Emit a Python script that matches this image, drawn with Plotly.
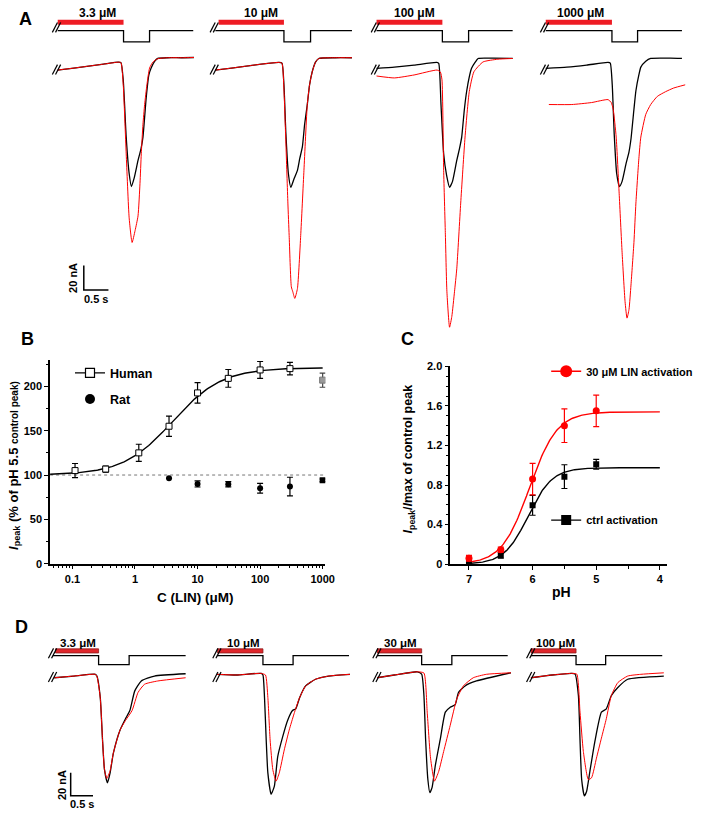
import numpy as np
import plotly.graph_objects as go

# ---------------- DATA ----------------
# Panel A: current traces (time in s, current in nA), control (black) and + LIN (red)
A_labels = ["3.3 μM", "10 μM", "100 μM", "1000 μM"]
A1_ctrl_t = [0, 0.334, 0.634, 0.934, 1.234, 1.288, 1.334, 1.394, 1.454, 1.5, 1.554, 1.634, 1.694, 1.734, 1.8, 1.854, 1.9, 1.974, 2.034, 2.234, 2.534, 2.768]
A1_ctrl_i = [-2.4, -0.8, 0.8, 2.4, 4, 3.6, -10.4, -56.8, -86.4, -97, -90.4, -75.8, -66.4, -56.8, -24.8, -6.4, -0.8, 4.8, 7, 7.6, 7.6, 7.8]
A1_lin_t = [0, 0.334, 0.634, 0.934, 1.234, 1.288, 1.334, 1.394, 1.454, 1.514, 1.574, 1.634, 1.674, 1.7, 1.734, 1.768, 1.814, 1.868, 1.934, 2.034, 2.234, 2.534, 2.768]
A1_lin_i = [-2.4, -0.8, 0.8, 2.4, 4, 3.6, -14.4, -70.4, -122.4, -142.4, -132.8, -120.8, -94.4, -70.4, -46.4, -30.4, -14.4, -0.8, 4, 6.8, 7.6, 7.6, 7.8]

A2_ctrl_t = [0, 0.334, 0.634, 0.934, 1.294, 1.354, 1.394, 1.434, 1.484, 1.534, 1.594, 1.668, 1.714, 1.768, 1.814, 1.868, 1.914, 1.968, 2.034, 2.1, 2.434, 2.774]
A2_ctrl_i = [-2.4, -0.8, 0.8, 2.4, 3.8, 3.2, -14.4, -54.4, -86.4, -97.6, -91.2, -83.8, -74.4, -64.8, -46.4, -30.4, -14.4, -3.8, 4, 7, 7.6, 7.6]
A2_lin_t = [0, 0.334, 0.634, 0.934, 1.294, 1.354, 1.394, 1.434, 1.474, 1.5, 1.544, 1.574, 1.614, 1.668, 1.734, 1.8, 1.868, 1.914, 1.968, 2.034, 2.1, 2.434, 2.774]
A2_lin_i = [-2.4, -0.8, 0.8, 2.4, 3.8, 3.2, -18.4, -62.4, -110.4, -136.8, -178.4, -182.4, -187.8, -179.8, -136.8, -83.8, -30.4, -14.4, -3.8, 4, 7, 7.6, 7.6]

A3_ctrl_t = [0, 0.366, 0.766, 1.226, 1.266, 1.312, 1.366, 1.426, 1.486, 1.546, 1.632, 1.686, 1.732, 1.786, 1.832, 1.886, 1.932, 2.006, 2.066, 2.366, 2.766]
A3_ctrl_i = [-1, 0, 1.6, 3.8, 3, -30.4, -70.4, -88, -97.6, -92.8, -75.8, -66.4, -56.8, -34.4, -19.8, -8, -1, 4, 7, 7.2, 7]
A3_lin_t = [0, 0.366, 0.766, 1.232, 1.3, 1.332, 1.366, 1.4, 1.432, 1.486, 1.532, 1.586, 1.632, 1.712, 1.8, 1.886, 1.98, 2.166, 2.466, 2.766]
A3_lin_i = [-7.2, -8.8, -6.4, -2.4, -4, -10.4, -83.8, -134.4, -182.4, -211.2, -202.4, -182.4, -163.8, -110.4, -56.8, -19.8, -3.8, 4.2, 6.4, 7]

A4_ctrl_t = [0, 0.434, 0.834, 1.268, 1.314, 1.354, 1.394, 1.444, 1.5, 1.554, 1.634, 1.694, 1.734, 1.794, 1.834, 1.894, 1.934, 2.034, 2.134, 2.534, 2.768]
A4_ctrl_i = [-1, 0, 1.6, 3.8, 3.2, -14.4, -54.4, -86.4, -97, -92.8, -78.4, -68.8, -58.4, -34.4, -19.2, -6.4, 0, 4.8, 7, 7.2, 7]
A4_lin_t = [0.068, 0.534, 0.934, 1.268, 1.334, 1.374, 1.434, 1.494, 1.554, 1.614, 1.654, 1.694, 1.734, 1.794, 1.834, 1.894, 1.934, 2.034, 2.134, 2.268, 2.434, 2.6, 2.834]
A4_lin_i = [-30.4, -30.4, -28.8, -26.4, -28.8, -34.4, -56.8, -102.4, -150.4, -190.4, -203.8, -196.8, -177, -142.4, -110.4, -74.4, -56.8, -38.4, -30.4, -23.8, -20, -17, -14.4]

# Panel A protocol timing (s): LIN bar start, pH step on/off, sweep end
A_bar_start = [0, 0.068, 0, 0]
A_step_on = [1.34, 1.394, 1.34, 1.348]
A_step_off = [1.868, 1.934, 1.872, 1.868]
A_end = [2.754, 2.774, 2.766, 2.768]

# Panel D: current traces
D_labels = ["3.3 μM", "10 μM", "30 μM", "100 μM"]
D1_ctrl_t = [0.037, 0.479, 0.958, 0.993, 1.068, 1.119, 1.163, 1.23, 1.289, 1.362, 1.51, 1.634, 1.731, 1.841, 1.987, 2.283, 2.98]
D1_ctrl_i = [-1.5, 0, 1.5, 0, -18.6, -55.7, -81.4, -92.8, -84.2, -67.1, -47.1, -37.1, -30, -12.9, -4.3, 0, 2]
D1_lin_t = [0.037, 0.479, 0.958, 0.993, 1.068, 1.119, 1.163, 1.214, 1.289, 1.362, 1.51, 1.634, 1.781, 1.914, 2.062, 2.355, 2.98]
D1_lin_i = [-1.5, 0, 1.5, 0, -18.6, -55.7, -81.4, -89.1, -82.3, -66.8, -47.1, -38.6, -30, -14.3, -7.1, -4.3, -1.5]

D2_ctrl_t = [0, 0.442, 0.993, 1.031, 1.066, 1.104, 1.141, 1.214, 1.287, 1.362, 1.472, 1.583, 1.693, 1.766, 1.854, 1.987, 2.208, 2.501, 2.98]
D2_ctrl_i = [1.5, 0.9, 2.3, 0.9, -18.6, -55.7, -84.2, -102.8, -95.7, -70, -52.9, -38.6, -30, -28.5, -18.6, -8.6, -2.8, 0, 1.5]
D2_lin_t = [0, 0.442, 0.993, 1.088, 1.141, 1.192, 1.252, 1.325, 1.397, 1.508, 1.618, 1.728, 1.839, 1.987, 2.208, 2.501, 2.98]
D2_lin_i = [1.5, 0.9, 2.3, 0.9, -18.6, -55.7, -81.4, -91.4, -84.2, -64.3, -47.1, -32.8, -20, -8.6, -2.8, 0, 1.5]

D3_ctrl_t = [0, 0.391, 0.905, 1.002, 1.053, 1.091, 1.141, 1.185, 1.236, 1.311, 1.422, 1.532, 1.642, 1.753, 1.826, 1.974, 2.23, 3.002]
D3_ctrl_i = [-1.5, 0.9, 3.7, 1.7, -17.1, -55.7, -90, -101.4, -96.8, -77.1, -54.2, -31.4, -27.2, -24.9, -14.3, -8.6, -4.3, 2.8]
D3_lin_t = [0, 0.391, 0.905, 1.053, 1.126, 1.201, 1.289, 1.384, 1.494, 1.642, 1.788, 1.936, 2.157, 2.45, 3.002]
D3_lin_i = [-1.5, 0.9, 3.7, 2.6, -31.4, -71.4, -91.4, -82.9, -65.7, -42.8, -20, -8.6, -1.5, 1.5, 2.8]

D4_ctrl_t = [0, 0.479, 0.921, 0.993, 1.068, 1.104, 1.141, 1.201, 1.252, 1.325, 1.435, 1.583, 1.693, 1.804, 1.951, 2.172, 2.98]
D4_ctrl_i = [-1.5, 0.9, 2.3, 1.7, -17.1, -55.7, -90, -104.3, -100.3, -82.9, -57.2, -31.4, -28.5, -17.1, -10, -2.8, 0]
D4_lin_t = [0, 0.479, 0.921, 1.031, 1.104, 1.179, 1.289, 1.362, 1.472, 1.583, 1.693, 1.804, 1.951, 2.172, 2.466, 2.98]
D4_lin_i = [-1.5, 0.9, 2.3, 1.7, -31.4, -65.7, -90, -88.5, -71.4, -54, -37.1, -17.1, -5.7, 0, 1.5, 2.8]

D_bar_start = [0.066, 0.015, 0, 0]
D_step_on = [1.031, 1.031, 1.002, 1.015]
D_step_off = [1.715, 1.706, 1.678, 1.678]
D_end = [2.98, 2.958, 2.929, 2.945]

# Panel B: dose-response
B_conc = [0.11, 0.34, 1.15, 3.5, 10, 31, 100, 300]
B_human = [105, 106.7, 125, 155, 192.6, 209, 218.5, 220]
B_human_err = [8, 3.5, 9.7, 11.5, 11.5, 10, 9.5, 7]
B_human_1000 = [207]
B_human_1000_err = [8]
B_rat_conc = [3.5, 10, 31, 100, 300]
B_rat = [96.3, 90, 89.6, 85, 87]
B_rat_err = [0, 3.5, 3, 5.5, 10.5]
B_rat_1000 = [94]
B_x_ticks = [0.1, 1, 10, 100, 1000]
B_x_ticktext = ["0.1", "1", "10", "100", "1000"]
# Hill fit parameters (human)
B_fit_bottom, B_fit_top, B_fit_ec50, B_fit_nh = 100, 221, 4.0, 1.1

# Panel C: pH dependence
C_pH = [7, 6.5, 6, 5.5, 5]
C_lin = [0.06, 0.147, 0.86, 1.40, 1.55]
C_lin_err = [0.03, 0.025, 0.16, 0.17, 0.16]
C_ctrl = [0.015, 0.09, 0.595, 0.885, 1.01]
C_ctrl_err = [0.015, 0.03, 0.10, 0.12, 0.05]
C_lin_fit = dict(top=1.54, pH50=6.05, n=2.0)
C_ctrl_fit = dict(top=0.975, pH50=6.07, n=2.3)
C_y_ticks = [0, 0.4, 0.8, 1.2, 1.6, 2.0]
C_y_ticktext = ["0", "0.4", "0.8", "1.2", "1.6", "2.0"]

# ---------------- STYLE / LAYOUT HELPERS ----------------
W, H = 709, 819
FONT = "Liberation Sans, Arial, sans-serif"
RED = "#ff0000"
BAR_RED = "#ee1c24"


def px(x):
    return x / W


def py(y):
    return 1 - y / H


def aname(i):
    return ("x" if i == 1 else f"x{i}"), ("y" if i == 1 else f"y{i}")


fig = go.Figure()
layout = {}
shapes = []
annotations = []


def bfont(size, color="black"):
    return dict(family=FONT, size=size, color=color, weight="bold")


def text(x, y, s, size, angle=0, xanchor="center", yanchor="middle", color="black"):
    annotations.append(dict(x=px(x), y=py(y), xref="paper", yref="paper", text=s,
                            showarrow=False, textangle=angle, xanchor=xanchor,
                            yanchor=yanchor, font=bfont(size, color)))


def brk(cx, cy, h=10):
    # "//" break mark
    for dx in (-1.6, 1.6):
        shapes.append(dict(type="line", xref="paper", yref="paper",
                           x0=px(cx + dx - 2.6), y0=py(cy + h / 2),
                           x1=px(cx + dx + 2.6), y1=py(cy - h / 2),
                           line=dict(color="black", width=1.2)))


A_traces = [(A1_ctrl_t, A1_ctrl_i, A1_lin_t, A1_lin_i),
            (A2_ctrl_t, A2_ctrl_i, A2_lin_t, A2_lin_i),
            (A3_ctrl_t, A3_ctrl_i, A3_lin_t, A3_lin_i),
            (A4_ctrl_t, A4_ctrl_i, A4_lin_t, A4_lin_i)]
D_traces = [(D1_ctrl_t, D1_ctrl_i, D1_lin_t, D1_lin_i),
            (D2_ctrl_t, D2_ctrl_i, D2_lin_t, D2_lin_i),
            (D3_ctrl_t, D3_ctrl_i, D3_lin_t, D3_lin_i),
            (D4_ctrl_t, D4_ctrl_i, D4_lin_t, D4_lin_i)]

# panel geometry (pixels)
A_x0 = [58.3, 218.3, 381.7, 553.3]
A_pps, A_ppn, A_y0 = 50.0, 1.25, 62.0          # px per s, px per nA, baseline px
A_top, A_bot = 0, 335
D_x0 = [53.3, 220.0, 382.3, 538.3]
D_pps, D_ppn, D_y0 = 45.3, 1.167, 680.0
D_top, D_bot = 640, 815
A_label_t = [0.82, 0.93, 0.77, 0.70]
D_label_t = [0.574, 0.589, 0.523, 0.552]


def trace_panel(idx, x0, pps, ppn, y0, top, bot, tr, bar_s, st_on, st_off, st_end,
                label, label_t, proto, panelD):
    xa, ya = aname(idx)
    width_px = 150
    layout["xaxis" + ("" if idx == 1 else str(idx))] = dict(
        domain=[px(x0), min(1.0, px(x0 + width_px))],
        range=[0, (min(W, x0 + width_px) - x0) / pps],
        visible=False, anchor=ya, fixedrange=True)
    layout["yaxis" + ("" if idx == 1 else str(idx))] = dict(
        domain=[py(bot), py(top)], range=[-(bot - y0) / ppn, (y0 - top) / ppn],
        visible=False, anchor=xa, fixedrange=True)
    ct, ci, lt, li = tr
    fig.add_trace(go.Scatter(x=ct, y=ci, mode="lines", xaxis=xa, yaxis=ya,
                             line=dict(color="black", width=1.3, shape="spline", smoothing=0.5),
                             showlegend=False, hoverinfo="skip"))
    fig.add_trace(go.Scatter(x=lt, y=li, mode="lines", xaxis=xa, yaxis=ya,
                             line=dict(color=RED, width=1.0, shape="spline", smoothing=0.5),
                             showlegend=False, hoverinfo="skip"))
    hi, lo, bar_y, bar_h, lab_y = proto
    path = (f"M {0},{py(hi)} L {st_on},{py(hi)} L {st_on},{py(lo)} L {st_off},{py(lo)} "
            f"L {st_off},{py(hi)} L {st_end},{py(hi)}")
    shapes.append(dict(type="path", xref=xa, yref="paper", path=path,
                       line=dict(color="black", width=1.3)))
    if panelD:
        shapes.append(dict(type="rect", xref=xa, yref="paper", x0=bar_s, x1=st_on,
                           y0=py(bar_y + bar_h / 2), y1=py(bar_y - bar_h / 2),
                           fillcolor="#e0262b", line=dict(color="#8c1c1c", width=0.8)))
    else:
        shapes.append(dict(type="rect", xref=xa, yref="paper", x0=bar_s, x1=st_on,
                           y0=py(bar_y + bar_h / 2), y1=py(bar_y - bar_h / 2),
                           fillcolor=BAR_RED, line=dict(width=0)))
    annotations.append(dict(x=label_t, y=py(lab_y), xref=xa, yref="paper", text=label,
                            showarrow=False, xanchor="center", yanchor="middle",
                            font=bfont(12 if not panelD else 11.5)))
    brk(x0 - (1 if not panelD else 0), (hi + bar_y) / 2 + (1 if not panelD else 0))
    brk(x0 - (1 if not panelD else 0), y0 + (2.5 if not panelD else 1))


for k in range(4):
    trace_panel(k + 1, A_x0[k], A_pps, A_ppn, A_y0, A_top, A_bot, A_traces[k],
                A_bar_start[k], A_step_on[k], A_step_off[k], A_end[k],
                A_labels[k], A_label_t[k], (25, 36.5, 16.5, 5, 7), False)
    trace_panel(k + 5, D_x0[k], D_pps, D_ppn, D_y0, D_top, D_bot, D_traces[k],
                D_bar_start[k], D_step_on[k], D_step_off[k], D_end[k],
                D_labels[k], D_label_t[k], (659.3, 668.5, 654.5, 4.2, 646), True)

# scale bars (20 nA, 0.5 s)
shapes.append(dict(type="path", xref="x", yref="y",
                   path="M 0.534,-161 L 0.534,-181 L 1.034,-181",
                   line=dict(color="black", width=1.5)))
shapes.append(dict(type="path", xref="x5", yref="y5",
                   path="M 0.406,-84.2 L 0.406,-104.2 L 0.906,-104.2",
                   line=dict(color="black", width=1.5)))
text(74, 276, "20 nA", 11, angle=-90)
text(97, 297, "0.5 s", 11)
text(63.5, 791, "20 nA", 11, angle=-90)
text(83.5, 809.5, "0.5 s", 11)

# ---------------- PANEL B ----------------
xb, yb = "x9", "y9"
minor_log = [k * 10 ** e for e in range(-2, 4) for k in range(2, 10) if 0.044 < k * 10 ** e < 1100]
axis_common = dict(showline=True, linecolor="black", linewidth=1.5, ticks="outside",
                   ticklen=4, tickwidth=1.3, tickcolor="black", showgrid=False,
                   zeroline=False, tickfont=bfont(11), fixedrange=True)
layout["xaxis9"] = dict(axis_common, domain=[px(50.7), px(330)], type="log",
                        range=[-1.359, 3.043], tickvals=B_x_ticks, ticktext=B_x_ticktext,
                        anchor=yb,
                        minor=dict(tickvals=minor_log, ticks="outside", ticklen=2.5,
                                   tickwidth=1, tickcolor="black"))
layout["yaxis9"] = dict(axis_common, domain=[py(566), py(359)], range=[0, 230],
                        tickvals=[0, 50, 100, 150, 200], anchor=xb,
                        minor=dict(dtick=25, tick0=0, ticks="outside", ticklen=2.5,
                                   tickwidth=1, tickcolor="black"))

conc_fit = np.logspace(np.log10(0.044), 3, 200)
fit_b = B_fit_bottom + (B_fit_top - B_fit_bottom) / (1 + (B_fit_ec50 / conc_fit) ** B_fit_nh)
fig.add_trace(go.Scatter(x=[0.044, 1200], y=[100, 100], mode="lines", xaxis=xb, yaxis=yb,
                         line=dict(color="#777", width=1.0, dash="dot"), showlegend=False))
fig.add_trace(go.Scatter(x=conc_fit, y=fit_b, mode="lines", xaxis=xb, yaxis=yb,
                         line=dict(color="black", width=1.4), showlegend=False))
fig.add_trace(go.Scatter(x=B_conc, y=B_human, mode="markers", xaxis=xb, yaxis=yb,
                         error_y=dict(type="data", array=B_human_err, color="black",
                                      thickness=1.2, width=3),
                         marker=dict(symbol="square", size=6, color="white",
                                     line=dict(color="black", width=1)),
                         showlegend=False))
fig.add_trace(go.Scatter(x=[1000], y=B_human_1000, mode="markers", xaxis=xb, yaxis=yb,
                         error_y=dict(type="data", array=B_human_1000_err, color="#444",
                                      thickness=1.2, width=3),
                         marker=dict(symbol="square", size=6, color="#9a9a9a",
                                     line=dict(color="#777", width=1)),
                         showlegend=False))
fig.add_trace(go.Scatter(x=B_rat_conc, y=B_rat, mode="markers", xaxis=xb, yaxis=yb,
                         error_y=dict(type="data", array=B_rat_err, color="black",
                                      thickness=1.2, width=3),
                         marker=dict(symbol="circle", size=6, color="black"),
                         showlegend=False))
fig.add_trace(go.Scatter(x=[1000], y=B_rat_1000, mode="markers", xaxis=xb, yaxis=yb,
                         error_y=dict(type="data", array=[1.5], color="black",
                                      thickness=1.2, width=3),
                         marker=dict(symbol="square", size=6, color="black"),
                         showlegend=False))
# legend entries
fig.add_trace(go.Scatter(x=[None], y=[None], mode="lines+markers", xaxis=xb, yaxis=yb,
                         name="Human", legend="legend",
                         line=dict(color="black", width=1.3),
                         marker=dict(symbol="square", size=9, color="white",
                                     line=dict(color="black", width=1.2))))
fig.add_trace(go.Scatter(x=[None], y=[None], mode="markers", xaxis=xb, yaxis=yb,
                         name="Rat", legend="legend2",
                         marker=dict(symbol="circle", size=10, color="black")))

text(14, 466, "<i>I</i><sub>peak</sub> (% of pH 5.5 <span style='font-size:10px'>control peak)</span>",
     13, angle=-90)
text(198.5, 600.5, "C (LIN) (μM)", 13.5)

# ---------------- PANEL C ----------------
xc, yc = "x10", "y10"
layout["xaxis10"] = dict(axis_common, domain=[px(456.7), px(676.7)], range=[7.294, 3.885],
                         tickvals=[7, 6, 5, 4], anchor=yc,
                         minor=dict(tickvals=[6.5, 5.5, 4.5], ticks="outside", ticklen=3,
                                    tickwidth=1, tickcolor="black"))
layout["yaxis10"] = dict(axis_common, domain=[py(566.5), py(365.7)], range=[0, 2.0],
                         tickvals=C_y_ticks, ticktext=C_y_ticktext, anchor=xc,
                         minor=dict(dtick=0.1, tick0=0, ticks="outside", ticklen=2.5,
                                    tickwidth=1, tickcolor="black"))
pH_fit = np.linspace(7, 4, 200)
for prm, col in ((C_ctrl_fit, "black"), (C_lin_fit, RED)):
    yfit = prm["top"] / (1 + 10 ** (prm["n"] * (pH_fit - prm["pH50"])))
    fig.add_trace(go.Scatter(x=pH_fit, y=yfit, mode="lines", xaxis=xc, yaxis=yc,
                             line=dict(color=col, width=1.4), showlegend=False))
fig.add_trace(go.Scatter(x=C_pH, y=C_ctrl, mode="markers", xaxis=xc, yaxis=yc,
                         error_y=dict(type="data", array=C_ctrl_err, color="black",
                                      thickness=1.2, width=3),
                         marker=dict(symbol="square", size=6, color="black"),
                         showlegend=False))
fig.add_trace(go.Scatter(x=C_pH, y=C_lin, mode="markers", xaxis=xc, yaxis=yc,
                         error_y=dict(type="data", array=C_lin_err, color=RED,
                                      thickness=1.2, width=3),
                         marker=dict(symbol="circle", size=7, color=RED),
                         showlegend=False))
fig.add_trace(go.Scatter(x=[None], y=[None], mode="lines+markers", xaxis=xc, yaxis=yc,
                         name="30 μM LIN activation", legend="legend3",
                         line=dict(color=RED, width=1.3),
                         marker=dict(symbol="circle", size=12, color=RED)))
fig.add_trace(go.Scatter(x=[None], y=[None], mode="lines+markers", xaxis=xc, yaxis=yc,
                         name="ctrl activation", legend="legend4",
                         line=dict(color="black", width=1.3),
                         marker=dict(symbol="square", size=10, color="black")))

text(415, 460, "<i>I</i><sub>peak</sub>/<i>I</i>max of control peak", 12.5, angle=-90)
text(570, 595, "pH", 14)

# panel letters
text(26, 13, "A", 18)
text(28, 338, "B", 18)
text(413, 338, "C", 18)
text(22, 630, "D", 18)


def leg(x, y, size):
    return dict(x=px(x), y=py(y), xanchor="left", yanchor="middle", bgcolor="rgba(0,0,0,0)",
                font=bfont(size), itemwidth=30, borderwidth=0)


layout["legend"] = leg(71, 372.7, 12.5)
layout["legend2"] = leg(71, 399.3, 12.5)
layout["legend3"] = leg(554, 370.7, 11)
layout["legend4"] = leg(554, 521.7, 11)

fig.update_layout(width=W, height=H, margin=dict(l=0, r=0, t=0, b=0),
                  paper_bgcolor="white", plot_bgcolor="white",
                  font=dict(family=FONT, color="black"),
                  shapes=shapes, annotations=annotations, **layout)
fig.write_html("out.html", config={"displayModeBar": False},
               post_script="document.body.style.margin='0';document.body.style.overflow='hidden';")
